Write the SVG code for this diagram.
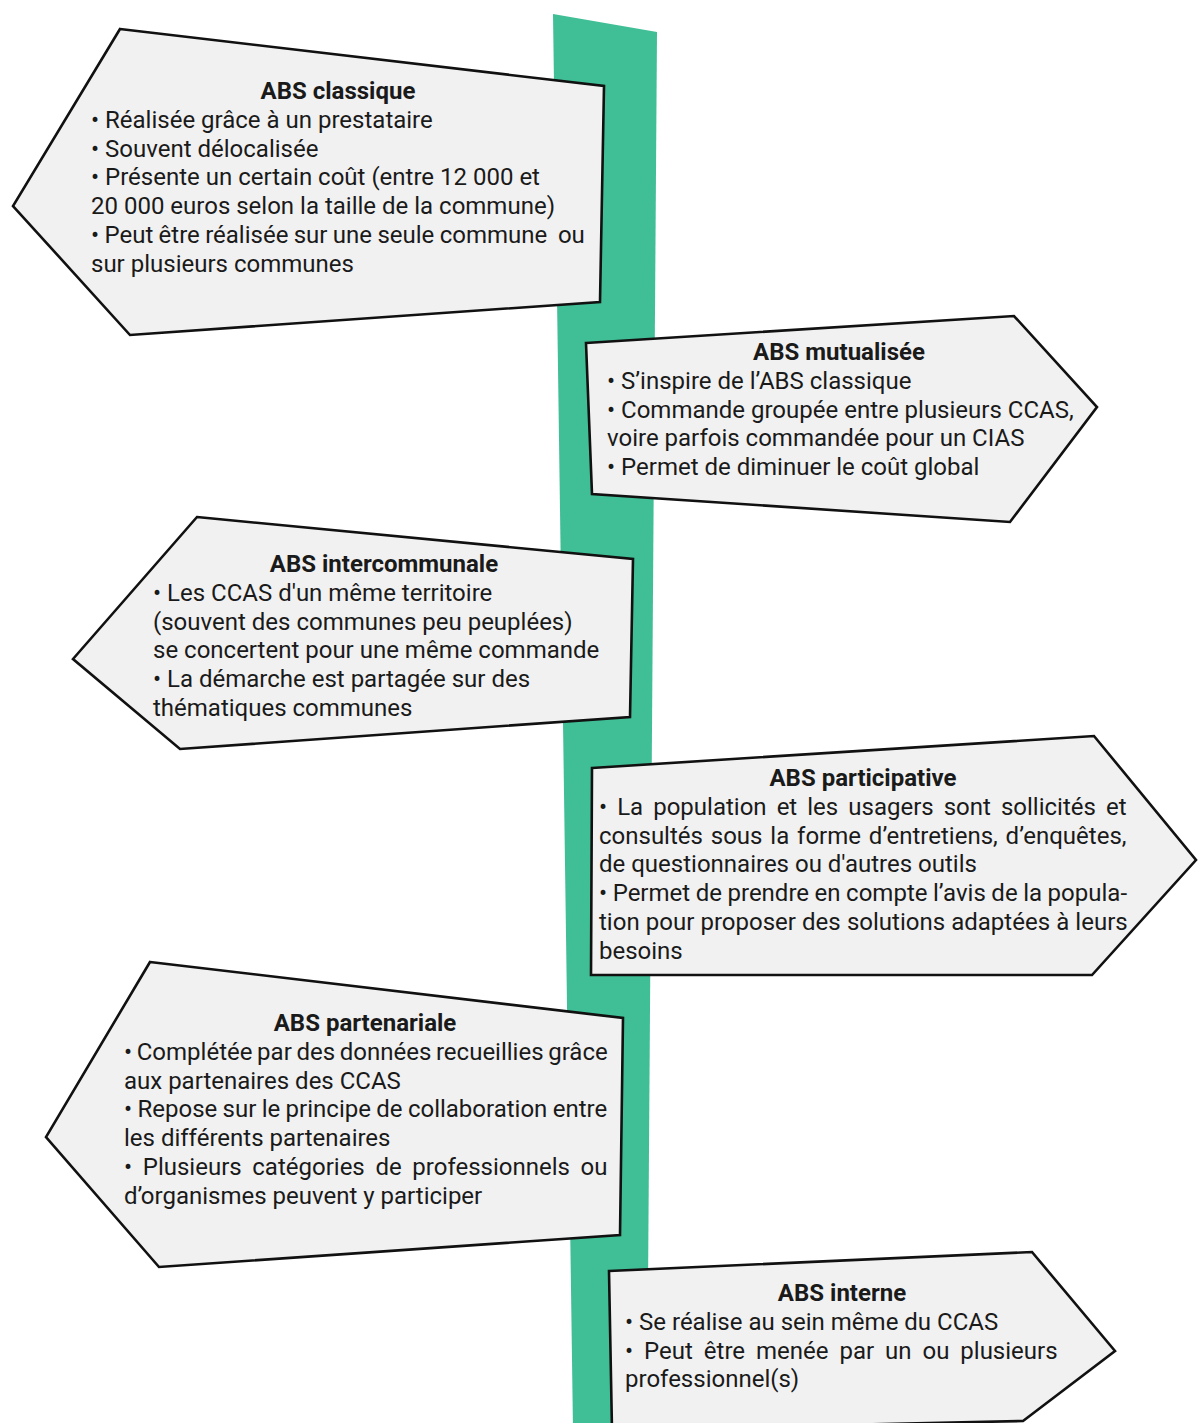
<svg xmlns="http://www.w3.org/2000/svg" width="1198" height="1423" viewBox="0 0 1198 1423">
<style>
.sign{fill:#f1f1f1;stroke:#111;stroke-width:2.6;stroke-linejoin:miter}
.t{font-family:Roboto,"Liberation Sans",sans-serif;font-size:24px;fill:#1a1a1a}
.h{font-weight:700;text-anchor:middle}
.pre{white-space:pre}
</style>
<rect width="1198" height="1423" fill="#ffffff"/>
<polygon id="pole" points="553,14 657,32 647,1430 573,1430" fill="#40bf96"/>
<g id="sign-classique">
<polygon class="sign" points="120,29 604,86 600,302 130,335 13,206"/>
<text class="t h" x="338" y="99">ABS classique</text>
<text class="t" x="91" y="127.8">• Réalisée grâce à un prestataire<tspan x="91" dy="28.8">• Souvent délocalisée</tspan><tspan x="91" dy="28.8">• Présente un certain coût (entre 12 000 et</tspan><tspan x="91" dy="28.8">20 000 euros selon la taille de la commune)</tspan><tspan x="91" dy="28.8" class="pre" word-spacing="-0.6">• Peut être réalisée sur une seule commune  ou</tspan><tspan x="91" dy="28.8">sur plusieurs communes</tspan></text>
</g>
<g id="sign-mutualisee">
<polygon class="sign" points="586,343 1014,316 1097,407 1010,522 592,494"/>
<text class="t h" x="839" y="360">ABS mutualisée</text>
<text class="t" x="607" y="388.8">• S’inspire de l’ABS classique<tspan x="607" dy="28.8">• Commande groupée entre plusieurs CCAS,</tspan><tspan x="607" dy="28.8">voire parfois commandée pour un CIAS</tspan><tspan x="607" dy="28.8">• Permet de diminuer le coût global</tspan></text>
</g>
<g id="sign-intercommunale">
<polygon class="sign" points="197,517 633,559 630,717 180,749 73,659"/>
<text class="t h" x="384" y="572">ABS intercommunale</text>
<text class="t" x="153" y="600.8">• Les CCAS d'un même territoire<tspan x="153" dy="28.8">(souvent des communes peu peuplées)</tspan><tspan x="153" dy="28.8">se concertent pour une même commande</tspan><tspan x="153" dy="28.8">• La démarche est partagée sur des</tspan><tspan x="153" dy="28.8">thématiques communes</tspan></text>
</g>
<g id="sign-participative">
<polygon class="sign" points="592,768 1094,736 1196,860 1092,975 591,975"/>
<text class="t h" x="863" y="786">ABS participative</text>
<text class="t" x="599" y="814.8" word-spacing="4.1">• La population et les usagers sont sollicités et</text>
<text class="t" x="599" y="843.6" word-spacing="1.9">consultés sous la forme d’entretiens, d’enquêtes,</text>
<text class="t" x="599" y="872.4">de questionnaires ou d'autres outils</text>
<text class="t" x="599" y="901.2" word-spacing="-0.4">• Permet de prendre en compte l’avis de la popula-</text>
<text class="t" x="599" y="930" word-spacing="0.2">tion pour proposer des solutions adaptées à leurs</text>
<text class="t" x="599" y="958.8">besoins</text>
</g>
<g id="sign-partenariale">
<polygon class="sign" points="150,962 623,1018 620,1235 159,1267 46,1137"/>
<text class="t h" x="365" y="1031">ABS partenariale</text>
<text class="t" x="124" y="1059.8" word-spacing="-1.3">• Complétée par des données recueillies grâce</text>
<text class="t" x="124" y="1088.6">aux partenaires des CCAS</text>
<text class="t" x="124" y="1117.4" word-spacing="-0.6">• Repose sur le principe de collaboration entre</text>
<text class="t" x="124" y="1146.2">les différents partenaires</text>
<text class="t" x="124" y="1175" word-spacing="4.7">• Plusieurs catégories de professionnels ou</text>
<text class="t" x="124" y="1203.8">d’organismes peuvent y participer</text>
</g>
<g id="sign-interne">
<polygon class="sign" points="609,1271 1032,1252 1115,1351 1023,1421 612,1430"/>
<text class="t h" x="842" y="1301">ABS interne</text>
<text class="t" x="625" y="1329.8">• Se réalise au sein même du CCAS</text>
<text class="t" x="625" y="1358.6" word-spacing="5">• Peut être menée par un ou plusieurs</text>
<text class="t" x="625" y="1387.4">professionnel(s)</text>
</g>
<g id="connectors"></g>
</svg>
